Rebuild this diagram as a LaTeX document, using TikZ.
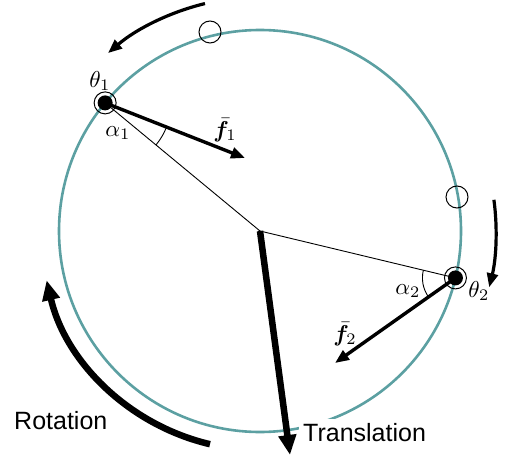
\documentclass[tikz,border=0pt]{standalone}
\usepackage{fontspec}
\usepackage{bm}
\usetikzlibrary{arrows.meta,calc}
\newfontfamily\lblsans{Liberation Sans}
\definecolor{circ}{RGB}{92,160,162}
\tikzset{
  rim/.style={draw=circ,line width=2.6pt},
  thin/.style={draw=black,line width=0.9pt},
  force/.style={line width=3.4pt,-{Triangle[length=14pt,width=11pt]}},
  bigarrow/.style={line width=6.5pt,-{Triangle[length=20pt,width=17pt]}},
  motion/.style={line width=3.2pt,-{Triangle[length=14pt,width=11pt]}},
  ring/.style={circle,draw,line width=1pt,minimum size=22pt,inner sep=0pt},
  dot/.style={circle,fill=black,minimum size=15pt,inner sep=0pt},
  mlabel/.style={font=\normalsize,inner sep=0pt},
  slabel/.style={font=\lblsans\fontsize{25}{28}\selectfont,inner sep=0pt}
}
\newcommand{\mbig}[1]{\scalebox{2.3}{$#1$}}
\begin{document}
\begin{tikzpicture}[x=1pt,y=1pt]
\useasboundingbox (0,0) rectangle (505,461);
\coordinate (C) at (260,230);
\draw[rim] (C) circle[radius=201];
% points
\coordinate (P1) at ($(C)+(140.4:201)$);
\coordinate (P2) at ($(C)+(-13.5:201)$);
\coordinate (F1) at (245,303);
\coordinate (F2) at (335,98);
% lines to centre
\draw[thin] (P1) -- (C);
\draw[thin] (P2) -- (C);
% angle arcs
\draw[thin] ($(P1)+(-39.6:66)$) arc[start angle=-39.6,end angle=-21.5,radius=66];
\draw[thin] ($(P2)+(166.5:33)$) arc[start angle=166.5,end angle=215.2,radius=33];
% small circles
\node[ring] (s1) at (210,429) {};
\node[ring] (s2) at (457,264) {};
% forces
\draw[force] (P1) -- (F1);
\draw[force] (P2) -- (F2);
\node[ring] (r1) at (P1) {};
\node[dot] (d1) at (P1) {};
\node[ring] (r2) at (P2) {};
\node[dot] (d2) at (P2) {};
% labels
\node[mlabel] (t1) at (100,380) {\mbig{\theta_1}};
\node[mlabel] (a1) at (118,328) {\mbig{\alpha_1}};
\node[mlabel] (f1) at (225,331) {\mbig{\bar{\bm f}_1}};
\node[mlabel] (a2) at (408,170) {\mbig{\alpha_2}};
\node[mlabel] (t2) at (479,170) {\mbig{\theta_2}};
\node[mlabel] (f2) at (345,127) {\mbig{\bar{\bm f}_2}};
% motion arrows
\draw[motion] ($(C)+(103.6:234)$) arc[start angle=103.6,end angle=130.5,radius=234];
\draw[motion] ($(C)+(7.6:236)$) arc[start angle=7.6,end angle=-13.8,radius=236];
\draw[bigarrow] ($(C)+(256.8:219)$) arc[start angle=256.8,end angle=193,radius=219];
% translation
\node[slabel,anchor=base west,fill=white,inner sep=4pt] (tr) at (299,20) {Translation};
\coordinate (T) at (290,6);
\draw[bigarrow] (C) -- (T);
\node[slabel,anchor=base west] (ro) at (14,32) {Rotation};
\end{tikzpicture}
\end{document}
